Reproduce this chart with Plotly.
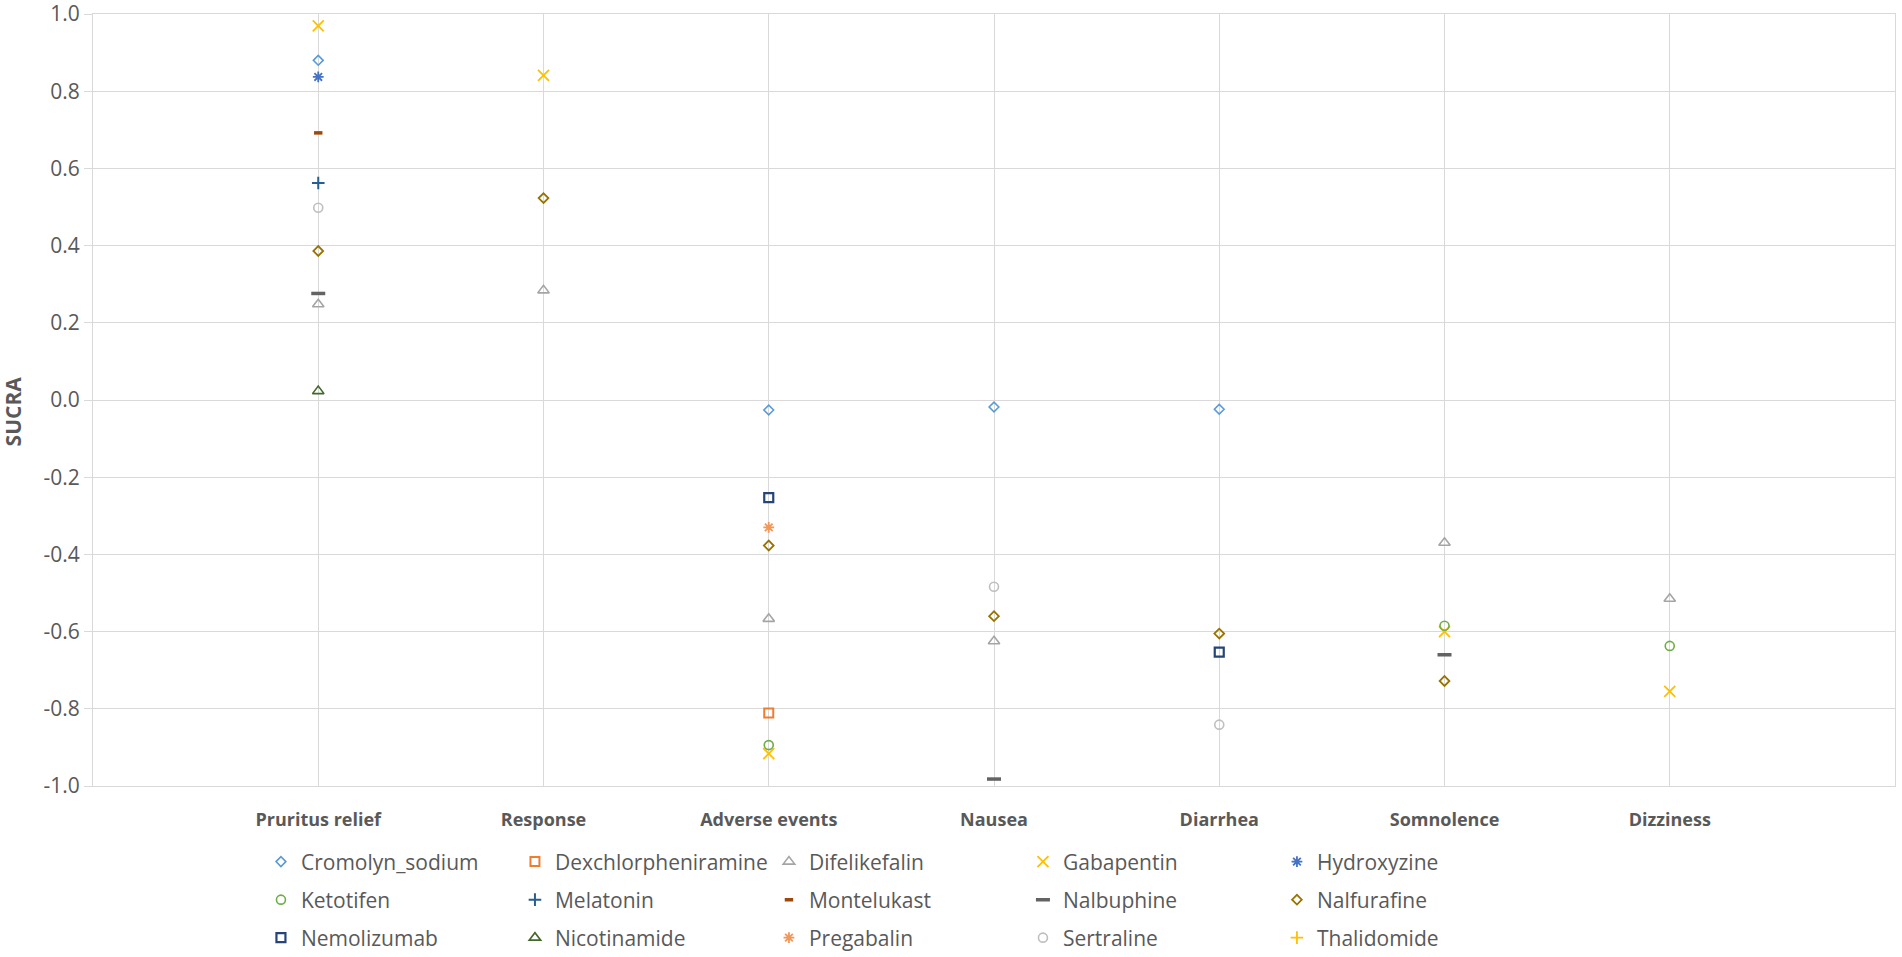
import plotly.graph_objects as go

# outcomes on the x axis, SUCRA per drug (None = not reported)
outcomes = ["Pruritus relief", "Response", "Adverse events", "Nausea",
            "Diarrhea", "Somnolence", "Dizziness"]

cromolyn_sodium = [0.880, None, -0.026, -0.018, -0.024, None, None]
dexchlorpheniramine = [None, None, -0.811, None, None, None, None]
difelikefalin = [0.248, 0.284, -0.567, -0.625, None, -0.370, -0.515]
gabapentin = [0.969, 0.841, -0.916, None, None, -0.600, -0.755]
hydroxyzine = [0.837, None, None, None, None, None, None]
ketotifen = [None, None, -0.894, None, None, -0.585, -0.637]
melatonin = [0.562, None, None, None, None, None, None]
montelukast = [0.692, None, None, None, None, None, None]
nalbuphine = [0.276, None, None, -0.982, None, -0.660, None]
nalfurafine = [0.386, 0.523, -0.377, -0.560, -0.605, -0.728, None]
nemolizumab = [None, None, -0.253, None, -0.653, None, None]
nicotinamide = [0.023, None, None, None, None, None, None]
pregabalin = [None, None, -0.330, None, None, None, None]
sertraline = [0.498, None, None, -0.484, -0.841, None, None]
thalidomide = [None, None, None, None, None, None, None]

y_ticks = [-1.0, -0.8, -0.6, -0.4, -0.2, 0.0, 0.2, 0.4, 0.6, 0.8, 1.0]

# name, values, symbol, colour, size, line width
series = [
    ("Cromolyn_sodium", cromolyn_sodium, "diamond-open", "#5B9BD5", 7.5, 1.6),
    ("Dexchlorpheniramine", dexchlorpheniramine, "square-open", "#ED7D31", 9, 2),
    ("Difelikefalin", difelikefalin, "triangle-up-open", "#A5A5A5", 10, 1.6),
    ("Gabapentin", gabapentin, "x-thin-open", "#FFC000", 11, 1.8),
    ("Hydroxyzine", hydroxyzine, "asterisk-open", "#4472C4", 9, 1.8),
    ("Ketotifen", ketotifen, "circle-open", "#70AD47", 9, 1.6),
    ("Melatonin", melatonin, "cross-thin-open", "#255E91", 9, 2),
    ("Montelukast", montelukast, "line-ew-open", "#9E480E", 6, 3.5),
    ("Nalbuphine", nalbuphine, "line-ew-open", "#636363", 10, 3.5),
    ("Nalfurafine", nalfurafine, "diamond-open", "#997300", 7.5, 1.8),
    ("Nemolizumab", nemolizumab, "square-open", "#264478", 9, 2.2),
    ("Nicotinamide", nicotinamide, "triangle-up-open", "#43682B", 10, 1.6),
    ("Pregabalin", pregabalin, "asterisk-open", "#F1975A", 9, 1.8),
    ("Sertraline", sertraline, "circle-open", "#BFBFBF", 9, 1.6),
    ("Thalidomide", thalidomide, "cross-thin-open", "#FFC000", 9, 1.8),
]

x_pos = [i + 1 for i in range(len(outcomes))]
grey = "#595959"
grid = "#D9D9D9"
font = "Open Sans"

fig = go.Figure()
for i, (name, vals, sym, col, size, lw) in enumerate(series):
    row = i // 5
    fig.add_trace(go.Scatter(
        x=x_pos, y=vals, name=name, mode="markers",
        marker=dict(symbol=sym, size=size, color=col,
                    line=dict(color=col, width=lw)),
        legend="legend" if row == 0 else f"legend{row + 1}",
    ))

legend_style = dict(orientation="h", xanchor="left", yanchor="middle",
                    x=0.0932, entrywidth=209,
                    font=dict(family=font, size=21, color=grey),
                    bgcolor="rgba(0,0,0,0)")

# autoexpand off so legends / labels do not squeeze the plot area
fig.update_layout(
    width=1902, height=957,
    margin=dict(l=93, r=7, t=14, b=171, autoexpand=False),
    paper_bgcolor="white", plot_bgcolor="white",
    font=dict(family=font, color=grey),
    legend=dict(legend_style, y=-0.0984),
    legend2=dict(legend_style, y=-0.1477),
    legend3=dict(legend_style, y=-0.1969),
    annotations=[dict(
        text="<b>SUCRA</b>", textangle=-90, showarrow=False,
        xref="paper", yref="paper", x=-0.0445, y=0.485,
        xanchor="center", yanchor="middle",
        font=dict(family=font, size=21, color=grey),
    )],
)

fig.update_xaxes(
    range=[0, len(outcomes) + 1], tickvals=x_pos, ticktext=outcomes,
    showgrid=True, gridcolor=grid, gridwidth=1, zeroline=False,
    showline=True, linecolor=grid, linewidth=1, mirror=True,
    ticks="", ticklabelstandoff=17, automargin=False,
    tickfont=dict(family=font, size=18, color=grey, weight="bold"),
)
fig.update_yaxes(
    range=[-1, 1], tickvals=y_ticks, ticktext=[f"{v:.1f}" for v in y_ticks],
    showgrid=True, gridcolor=grid, gridwidth=1, zeroline=False,
    showline=True, linecolor=grid, linewidth=1, mirror=True,
    ticks="outside", ticklen=8, tickcolor=grid, ticklabeloverflow="allow",
    automargin=False,
    tickfont=dict(family=font, size=21, color=grey),
)

# drop the default 8px body margin so the figure fills the window exactly
fig.write_html("out.html", config={"displayModeBar": False},
               post_script="document.body.style.margin = '0';")
